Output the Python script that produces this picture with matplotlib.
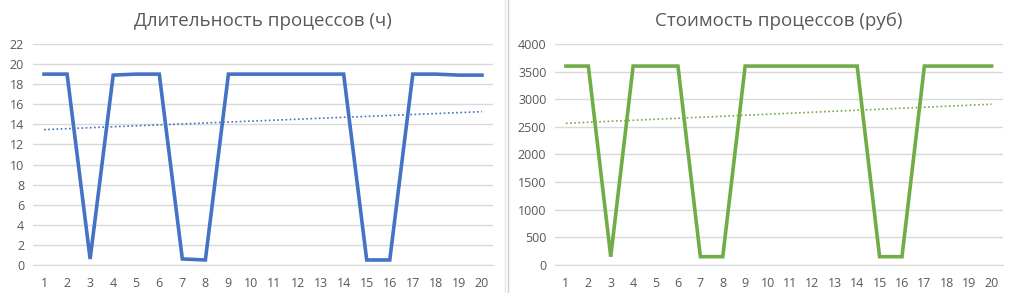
import numpy as np
import matplotlib.pyplot as plt
from matplotlib.lines import Line2D

plt.rcParams['font.family'] = ['Open Sans', 'DejaVu Sans']

processes = list(range(1, 21))
duration_h = [19, 19, 0.6, 18.9, 19, 19, 0.6, 0.5, 19, 19,
              19, 19, 19, 19, 0.5, 0.5, 19, 19, 18.9, 18.9]
cost_rub = [3600, 3600, 150, 3600, 3600, 3600, 150, 150, 3600, 3600,
            3600, 3600, 3600, 3600, 150, 150, 3600, 3600, 3600, 3600]

text_color = '#595959'
grid_color = '#D9D9D9'

fig = plt.figure(figsize=(10.16, 2.93), dpi=100)

panels = [
    ([0.032, 0.0956, 0.4537, 0.7543], duration_h, '#4472C4',
     'Длительность процессов (ч)', np.arange(0, 23, 2), 22),
    ([0.546, 0.0956, 0.441, 0.7543], cost_rub, '#70AD47',
     'Стоимость процессов (руб)', np.arange(0, 4001, 500), 4000),
]

for rect, values, color, title, yticks, ymax in panels:
    ax = fig.add_axes(rect)
    x = np.array(processes)
    y = np.array(values)
    ax.plot(x, y, color=color, linewidth=2.6, solid_joinstyle='miter', zorder=3)

    # linear trend line, like Excel's
    k, b = np.polyfit(x, y, 1)
    ax.plot(x, k * x + b, color=color, linewidth=1.2, linestyle=(0, (1, 1.5)), zorder=2)

    ax.set_xlim(0.5, 20.5)
    ax.set_ylim(0, ymax)
    ax.set_xticks(x)
    ax.set_yticks(yticks)
    ax.tick_params(length=0, labelsize=9, colors=text_color)
    ax.tick_params(axis='x', pad=9)
    ax.tick_params(axis='y', pad=6)
    ax.grid(axis='y', color=grid_color, linewidth=1, zorder=0)
    for side in ['top', 'right', 'left']:
        ax.spines[side].set_visible(False)
    ax.spines['bottom'].set_color(grid_color)
    ax.set_title(title, fontsize=13.5, color=text_color, pad=13)

# thin borders between the two charts
fig.add_artist(Line2D([505 / 1016, 505 / 1016], [0, 1], color='#E6E6E6', linewidth=1))
fig.add_artist(Line2D([508 / 1016, 508 / 1016], [0, 1], color='#D0D0D0', linewidth=1))

plt.savefig('out.png', dpi=100)
